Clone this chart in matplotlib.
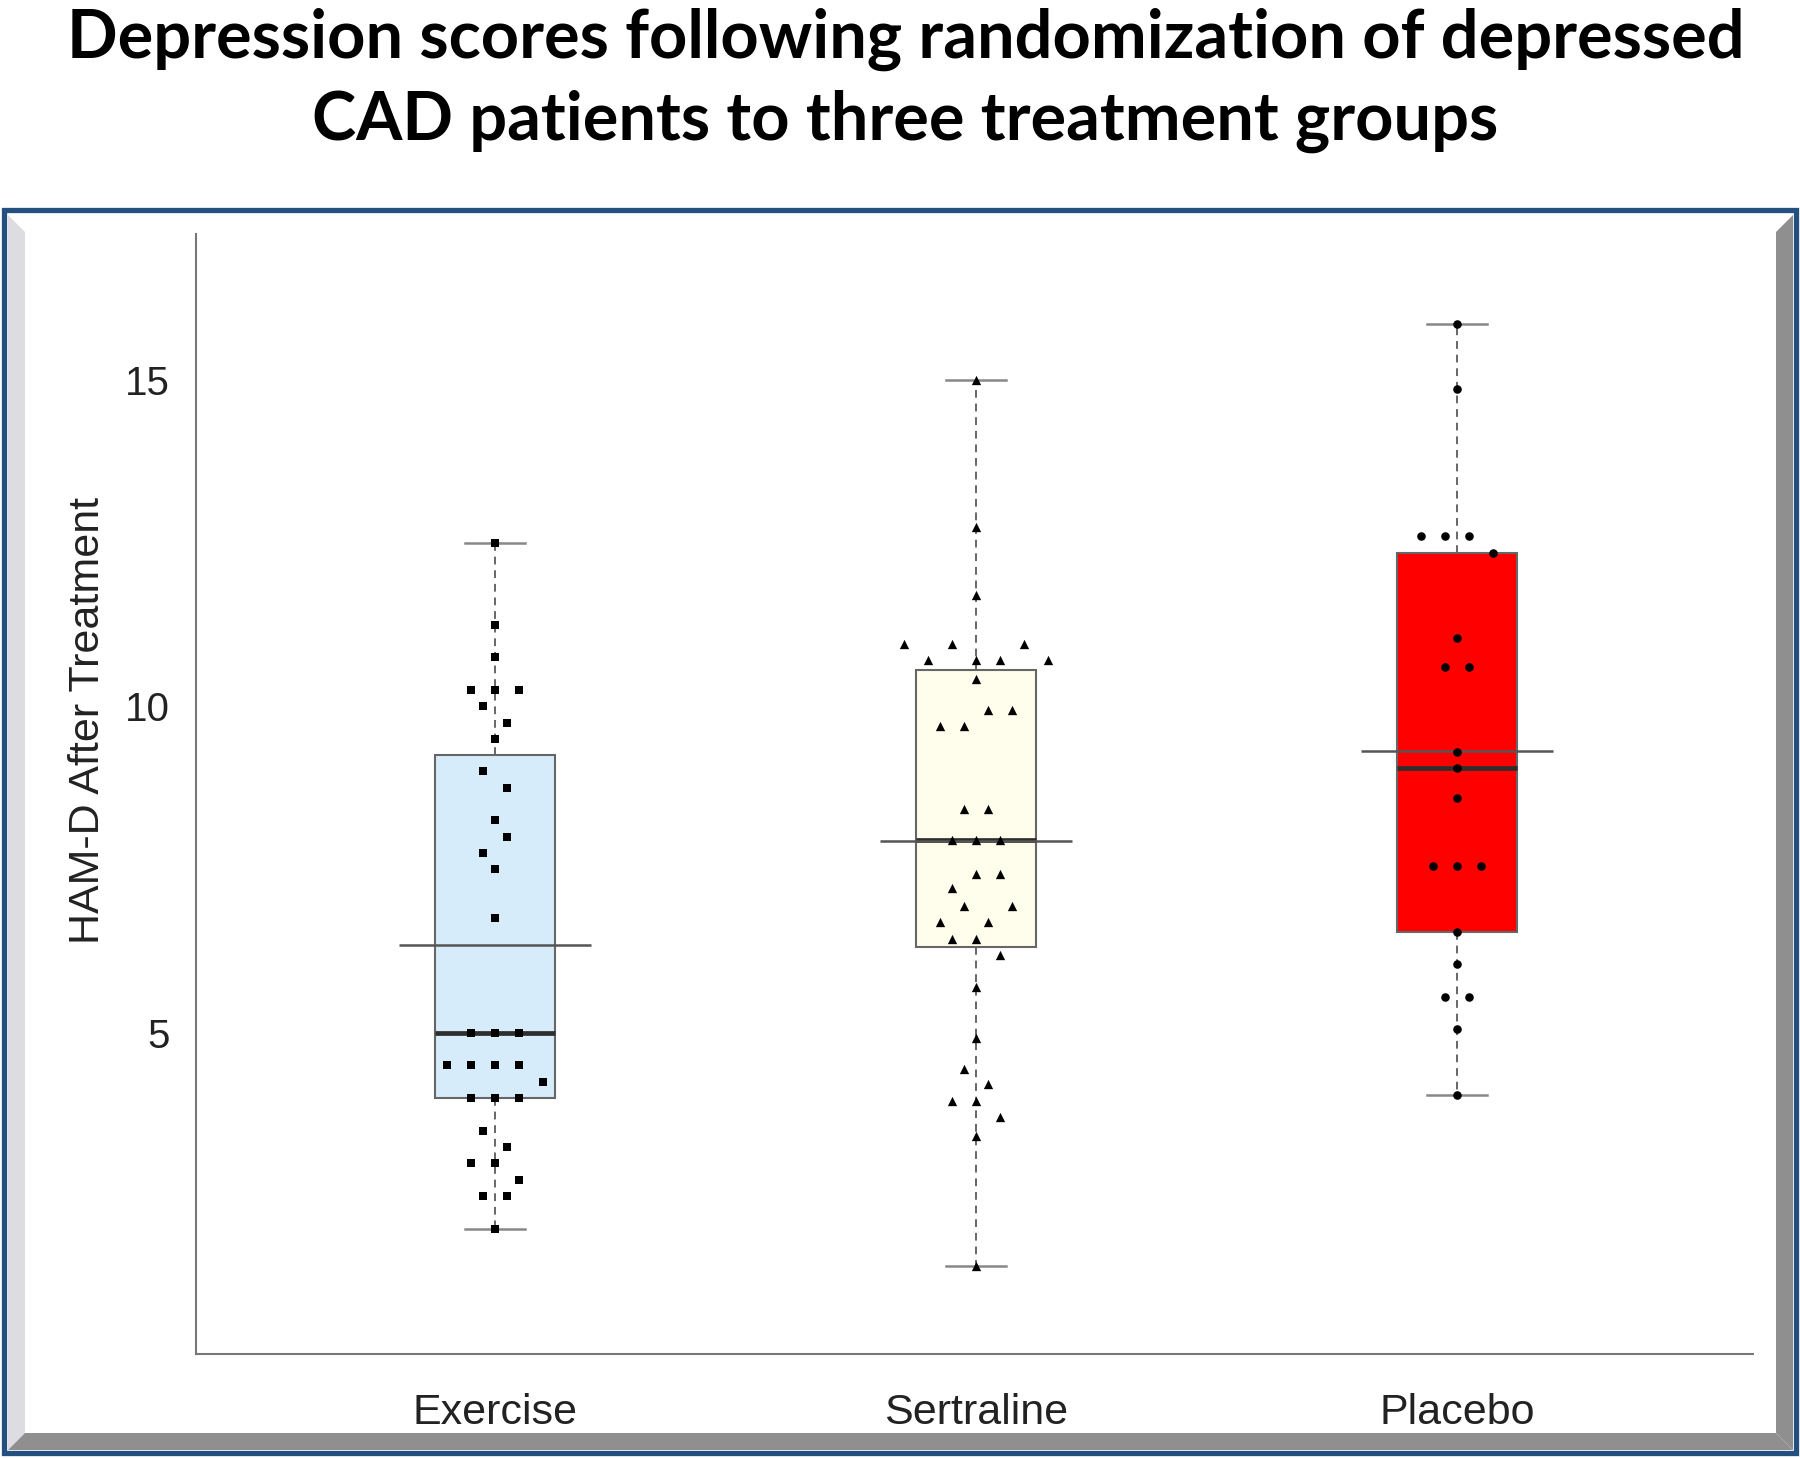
import numpy as np
import matplotlib
matplotlib.use("Agg")
import matplotlib.pyplot as plt
from matplotlib.patches import Polygon, Rectangle

# values (HAM-D after treatment)
GROUPS = ["Exercise", "Sertraline", "Placebo"]
EXERCISE = [12.5, 11.25, 10.75, 10.25, 10.25, 10.25, 10.0, 9.75, 9.5, 9.0, 8.75, 8.25, 8.0, 7.75, 7.5, 6.75,
            5.0, 5.0, 5.0, 4.5, 4.5, 4.5, 4.5, 4.25, 4.0, 4.0, 4.0, 3.5, 3.25, 3.0, 3.0, 2.75, 2.5, 2.5, 2.0]
SERTRALINE = [15.0, 12.75, 11.7, 10.95, 10.95, 10.95, 10.7, 10.7, 10.7, 10.7, 10.42, 9.94, 9.94, 9.7, 9.7,
              8.43, 8.43, 7.95, 7.95, 7.95, 7.43, 7.43, 7.22, 6.94, 6.94, 6.7, 6.7, 6.44, 6.44, 6.19, 5.7,
              4.92, 4.45, 4.21, 3.95, 3.95, 3.71, 3.42, 1.43]
PLACEBO = [15.85, 14.85, 12.6, 12.6, 12.6, 12.35, 11.05, 10.6, 10.6, 9.3, 9.05, 8.6, 7.55, 7.55, 7.55,
           6.55, 6.05, 5.55, 5.55, 5.05, 4.05]
# horizontal swarm slot of each point (one slot = 0.025 on the x axis)
EXERCISE_SLOT = [0, 0, 0, -2, 0, 2, -1, 1, 0, -1, 1, 0, 1, -1, 0, 0,
                 -2, 0, 2, -4, -2, 0, 2, 4, -2, 0, 2, -1, 1, -2, 0, 2, -1, 1, 0]
SERTRALINE_SLOT = [0, 0, 0, -6, -2, 4, -4, 0, 2, 6, 0, 1, 3, -3, -1,
                   -1, 1, -2, 0, 2, 0, 2, -2, -1, 3, -3, 1, -2, 0, 2, 0,
                   0, -1, 1, -2, 0, 2, 0, 0]
PLACEBO_SLOT = [0, 0, -3, -1, 1, 3, 0, -1, 1, 0, 0, 0, -2, 0, 2,
                0, 0, -1, 1, 0, 0]
YTICKS = [5, 10, 15]

FILLS = ["#d6ecfb", "#fffdec", "#fe0000"]
MARKERS = [("s", 26), ("^", 45), ("o", 38)]
TXT = "#222222"

plt.rcParams.update({"font.family": ["Liberation Sans", "DejaVu Sans"]})


def frame(fig):
    bg = fig.add_axes([0, 0, 1, 1], zorder=-1)
    bg.set_xlim(0, 1800); bg.set_ylim(1458, 0); bg.axis("off")
    bg.add_patch(Polygon([(8, 215), (25, 232), (25, 1433), (8, 1450)], color="#dddde1", lw=0))
    bg.add_patch(Polygon([(1793, 215), (1776, 232), (1776, 1433), (1793, 1450)], color="#8f8f8f", lw=0))
    bg.add_patch(Polygon([(8, 1450), (25, 1433), (1776, 1433), (1793, 1450)], color="#8f8f8f", lw=0))
    bg.add_patch(Rectangle((4, 210), 1792, 1243, fill=False, edgecolor="#23507f", lw=3.8))


def main():
    fig = plt.figure(figsize=(18, 14.58), dpi=100)
    frame(fig)
    fig.text(0.503, 0.9605, "Depression scores following randomization of depressed",
             ha="center", va="baseline", fontsize=48, fontweight="bold", family="Lato")
    fig.text(0.503, 0.9040, "CAD patients to three treatment groups",
             ha="center", va="baseline", fontsize=48, fontweight="bold", family="Lato")

    ax = fig.add_axes([0.1089, 0.0713, 0.8650, 0.7682])
    ax.patch.set_visible(False)
    data = [EXERCISE, SERTRALINE, PLACEBO]
    slots = [EXERCISE_SLOT, SERTRALINE_SLOT, PLACEBO_SLOT]
    pos = np.arange(1, len(GROUPS) + 1)

    bp = ax.boxplot(data, positions=pos, widths=0.25, capwidths=0.125, whis=1.5, showfliers=False,
                    patch_artist=True,
                    boxprops=dict(edgecolor="#666666", lw=1.5),
                    medianprops=dict(color="#2e2e2e", lw=3.4),
                    whiskerprops=dict(color="#666666", lw=1.4, ls=(0, (4, 3))),
                    capprops=dict(color="#888888", lw=1.8))
    for patch, c in zip(bp["boxes"], FILLS):
        patch.set_facecolor(c)

    for p, d, sl, (m, s) in zip(pos, data, slots, MARKERS):
        ax.hlines(np.mean(d), p - 0.2, p + 0.2, color="#555555", lw=1.8, zorder=4)
        ax.scatter(p + 0.025 * np.array(sl), d, marker=m, s=s, color="black", lw=0, zorder=5)

    ax.set_xlim(0.378, 3.615); ax.set_ylim(0.08, 17.23)
    ax.set_xticks(pos, GROUPS)
    ax.set_yticks(YTICKS)
    ax.tick_params(axis="x", length=0, pad=28, labelsize=31, labelcolor=TXT)
    ax.tick_params(axis="y", length=0, pad=19, labelsize=29, labelcolor=TXT)
    for side in ("top", "right"):
        ax.spines[side].set_visible(False)
    for side in ("left", "bottom"):
        ax.spines[side].set_color("#777777"); ax.spines[side].set_linewidth(1.5)
    ax.set_ylabel("HAM-D After Treatment", fontsize=31, color=TXT, va="center")
    ax.yaxis.set_label_coords(-0.0694, 0.566)

    fig.savefig("out.png", dpi=100)
    plt.close(fig)


if __name__ == "__main__":
    main()
